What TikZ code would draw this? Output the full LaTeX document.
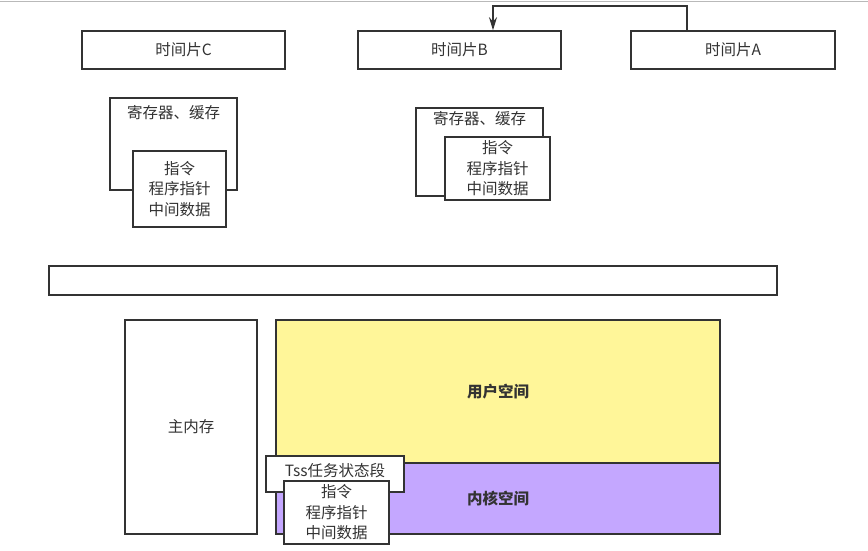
\documentclass[tikz,border=0pt]{standalone}
\usepackage{fontspec}
\newfontfamily\cjk{Noto Sans CJK SC}
\usetikzlibrary{arrows.meta}
\definecolor{userY}{RGB}{255,246,153}
\definecolor{kernP}{RGB}{196,167,255}
\tikzset{box/.style={draw=black!80,line width=1.6pt,fill=white,inner sep=0pt},
lbl/.style={inner sep=0pt,align=center}}
\begin{document}
\begin{tikzpicture}[x=1pt,y=-1pt,>=Stealth,text=black!80,font=\cjk\fontsize{15.5pt}{20.5pt}\selectfont]
\useasboundingbox (0,0) rectangle (868,550);
\draw[gray!55,line width=1pt] (0,1)--(868,1);
% time slices
\node[box,minimum width=203,minimum height=38] (tsC) at (183.5,50) {时间片C};
\node[box,minimum width=203,minimum height=38] (tsB) at (459.5,50) {时间片B};
\node[box,minimum width=204,minimum height=38] (tsA) at (733,50) {时间片A};
\draw[->,line width=1.6pt,draw=black!80,arrows={-Stealth[length=13pt,width=8pt]}] ([xshift=-46pt]tsA.north)--++(0,-24) -| ([xshift=33.5pt]tsB.north);
% saved contexts
\node[box,minimum width=127,minimum height=92] (regC) at (173.5,144) {};
\node[lbl] (regCt) at (173.5,113) {寄存器、缓存};
\node[box,minimum width=93,minimum height=76] (insC) at (179.5,189) {};
\node[lbl] (insCt) at (insC) {指令\\程序指针\\中间数据};
\node[box,minimum width=127,minimum height=88] (regB) at (479.5,152) {};
\node[lbl] (regBt) at (479.5,119) {寄存器、缓存};
\node[box,minimum width=105,minimum height=63] (insB) at (497.5,168.5) {};
\node[lbl] (insBt) at (insB) {指令\\程序指针\\中间数据};
% cpu bar
\node[box,minimum width=728,minimum height=29] (bar) at (413,280.5) {};
% memory
\node[box,minimum width=132,minimum height=214] (mem) at (191,427) {主内存};
\node[box,fill=userY,minimum width=444,minimum height=143] (user) at (498,391.5) {\bfseries 用户空间};
\node[box,fill=kernP,minimum width=444,minimum height=71] (kern) at (498,498.5) {\bfseries 内核空间};
\node[box,minimum width=138,minimum height=36] (tss) at (335,474) {};
\node[lbl] (tsst) at (335,471) {Tss任务状态段};
\node[box,minimum width=105,minimum height=63] (insK) at (336.5,512.5) {};
\node[lbl] (insKt) at (insK) {指令\\程序指针\\中间数据};
\end{tikzpicture}
\end{document}
